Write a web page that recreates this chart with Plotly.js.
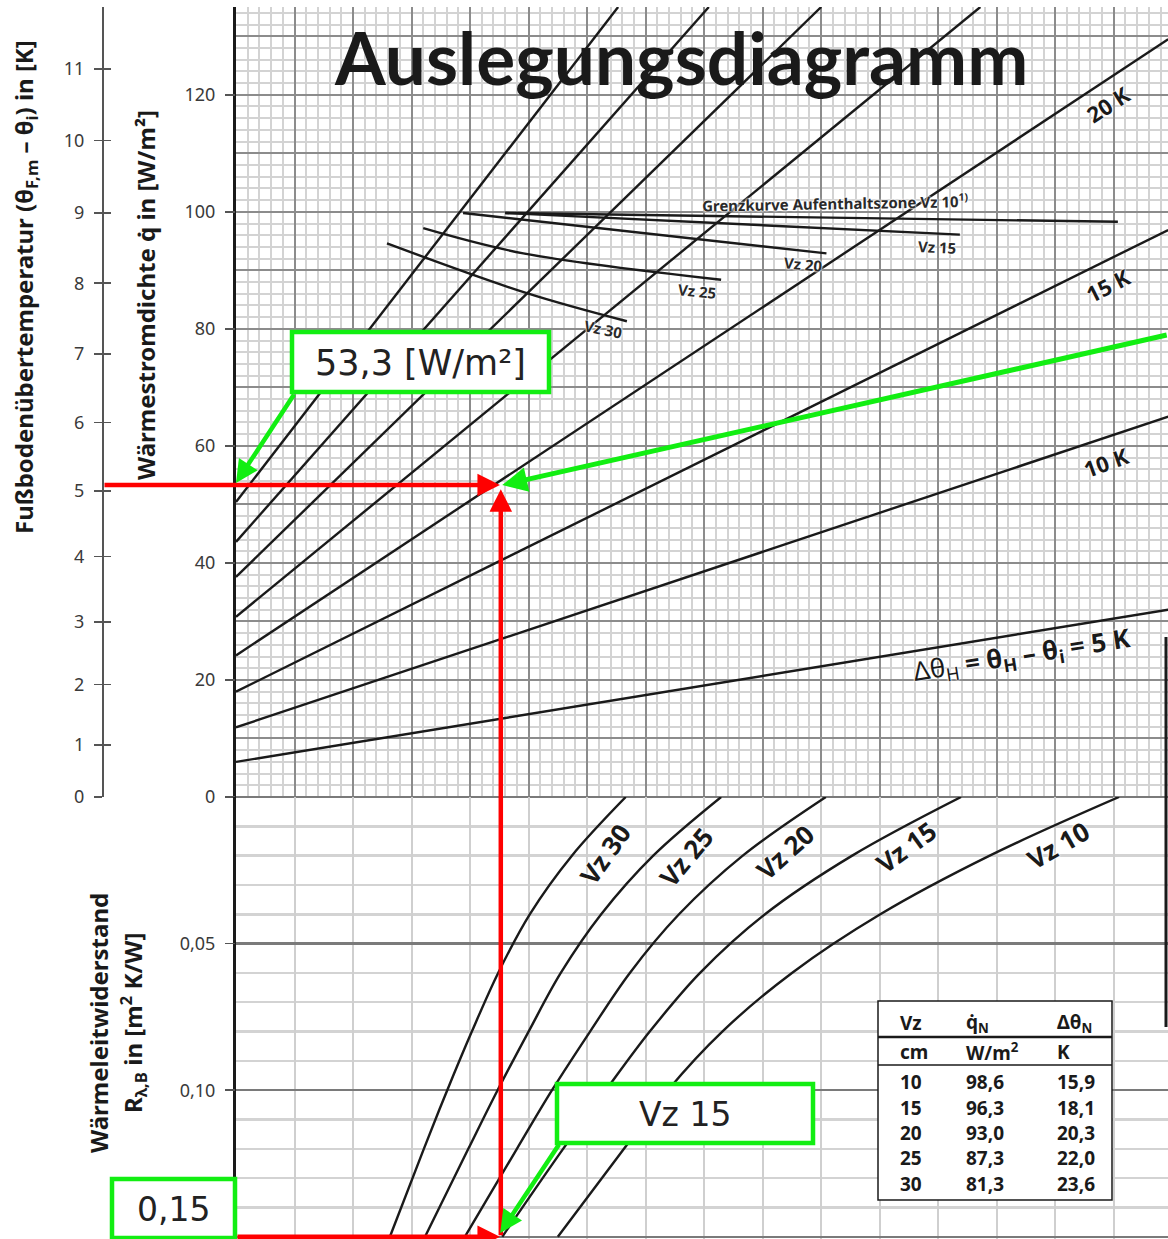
<!DOCTYPE html>
<html><head><meta charset="utf-8">
<script src="https://cdn.plot.ly/plotly-3.0.1.min.js"></script>
<style>html,body{margin:0;padding:0;background:#fff;overflow:hidden}#chart{width:1168px;height:1239px}</style>
</head><body><div id="chart"></div>
<script>
// ================= DATA =================
// Upper part: heat flux lines for Δθ_H (q in W/m² at the left edge and at an end point)
const deltaThetaH = [5, 10, 15, 20, 25, 30, 35, 40];
const lineXStart  = [0, 0, 0, 0, 0, 0, 0, 0];
const lineQStart  = [6.0, 11.9, 18.0, 24.2, 30.8, 37.6, 43.6, 50.4];
const lineXEnd    = [159.3, 159.3, 159.3, 159.3, 127.2, 100.0, 80.8, 65.3];
const lineQEnd    = [32.0, 65.0, 96.9, 129.5, 135.0, 135.0, 135.0, 135.0];

// Grenzkurven Aufenthaltszone (upper part)
const grenzNames = ['Vz 10', 'Vz 15', 'Vz 20', 'Vz 25', 'Vz 30'];
const grenzVz10X = [46.0, 150.7];        const grenzVz10Q = [99.8, 98.3];
const grenzVz15X = [46.0, 123.7];        const grenzVz15Q = [99.8, 96.1];
const grenzVz20X = [38.8, 100.9];        const grenzVz20Q = [99.8, 92.9];
const grenzVz25X = [32.0, 49.1, 82.9];   const grenzVz25Q = [97.2, 92.9, 88.4];
const grenzVz30X = [25.8, 49.7, 66.8];   const grenzVz30Q = [94.6, 86.1, 81.3];

// Lower part: R_λ,B vs. x for each spacing Vz
const rValues = [0, 0.02, 0.04, 0.06, 0.08, 0.10, 0.12, 0.15];
const vz30X = [66.6, 57.4, 50.2, 44.8, 40.3, 36.1, 32.1, 26.3];
const vz25X = [82.9, 71.3, 62.4, 55.5, 50.0, 44.7, 39.7, 32.3];
const vz20X = [100.8, 86.6, 75.7, 67.3, 60.5, 54.0, 48.0, 39.1];
const vz15X = [123.9, 105.3, 90.4, 79.3, 70.7, 63.2, 55.9, 45.5];
const vz10X = [150.9, 128.8, 110.1, 95.0, 83.1, 73.8, 66.3, 55.0];

// Axis ticks
const qTickVals  = [0, 20, 40, 60, 80, 100, 120];
const rTickVals  = [0.05, 0.10];
const rTickText  = ['0,05', '0,10'];
const kTickLabels = ['0','1','2','3','4','5','6','7','8','9','10','11'];
const kTickPosQ   = [0, 8.9, 19.2, 29.9, 41.1, 52.3, 64.0, 75.7, 87.8, 99.8, 112.2, 124.4];

// Worked example
const exampleQ = 53.3;      // W/m²
const exampleR = 0.15;      // m²K/W
const exampleX = 45.1;      // intersection on the 20 K line / Vz 15 curve
const greenLineStartX = 159.3, greenLineStartQ = 79.0;

// Table
const tableHeader1 = ['Vz', 'q̇<sub>N</sub>', 'Δθ<sub>N</sub>'];
const tableHeader2 = ['cm', 'W/m<sup>2</sup>', 'K'];
const tableVz = ['10', '15', '20', '25', '30'];
const tableQN = ['98,6', '96,3', '93,0', '87,3', '81,3'];
const tableDT = ['15,9', '18,1', '20,3', '22,0', '23,6'];

// ================= LAYOUT GEOMETRY =================
const W = 1168, H = 1239;
const PL = 236, PR = 1168, TOPPX = 7, ZEROPX = 797, BOTPX = 1239;
const QMAX = 135;
const PXQ = (ZEROPX - TOPPX) / QMAX;          // px per W/m² (and per x unit)
const XMAX = (PR - PL) / PXQ;
const PXR = 2932;                               // px per m²K/W
const RMAX = (BOTPX - ZEROPX) / PXR;
const px = v => v / W, py = v => 1 - v / H;
const qPx = q => ZEROPX - q * PXQ, rPx = r => ZEROPX + r * PXR;
const pxToX = p => (p - PL) / PXQ, pxToQ = p => (ZEROPX - p) / PXQ, pxToR = p => (p - ZEROPX) / PXR;

const BLACK = '#1a1a1a', RED = '#ff0000', GREEN = '#12ee12';
const SANS = 'Noto Sans, Open Sans, DejaVu Sans, sans-serif';
const HALO = '0px 0px 2px #fff, 0px 0px 2px #fff, 0px 0px 3px #fff';

const traces = [];
deltaThetaH.forEach((d, i) => {
  traces.push({x: [lineXStart[i], lineXEnd[i]], y: [lineQStart[i], lineQEnd[i]], xaxis: 'x', yaxis: 'y',
    mode: 'lines', line: {color: BLACK, width: 2.4}, hoverinfo: 'skip', showlegend: false, name: d + ' K'});
});
[[grenzVz10X, grenzVz10Q], [grenzVz15X, grenzVz15Q], [grenzVz20X, grenzVz20Q], [grenzVz25X, grenzVz25Q], [grenzVz30X, grenzVz30Q]]
  .forEach((g, i) => traces.push({x: g[0], y: g[1], xaxis: 'x', yaxis: 'y', mode: 'lines',
    line: {color: BLACK, width: 2.4, shape: 'spline', smoothing: 1}, hoverinfo: 'skip', showlegend: false, name: grenzNames[i]}));
[vz30X, vz25X, vz20X, vz15X, vz10X].forEach(arr => traces.push({x: arr, y: rValues, xaxis: 'x2', yaxis: 'y2',
  mode: 'lines', line: {color: BLACK, width: 2.4, shape: 'spline', smoothing: 1}, hoverinfo: 'skip', showlegend: false}));
// helper traces to register overlay axes
[['x','y3',qTickVals],['x2','y4',rTickVals],['x','y5',kTickPosQ],['x','y6',kTickPosQ]].forEach(t =>
  traces.push({x: t[2].map(() => lineXStart[0]), y: t[2], xaxis: t[0], yaxis: t[1], mode: 'markers',
    marker: {opacity: 0, size: 1}, hoverinfo: 'skip', showlegend: false}));

const upperDom = [py(ZEROPX), py(TOPPX)];
const lowerDom = [0, py(ZEROPX)];
const tickFont = {family: SANS, size: 18, color: '#3a3a3a'};

const layout = {
  width: W, height: H, margin: {l: 0, r: 0, t: 0, b: 0}, paper_bgcolor: '#fff', plot_bgcolor: '#fff',
  showlegend: false,
  xaxis: {domain: [px(PL), 1], range: [0, XMAX], anchor: 'y', dtick: 10, tick0: 0, showgrid: true,
    gridcolor: '#8c8c8c', gridwidth: 2, minor: {dtick: 2, showgrid: true, gridcolor: '#d3d3d3', gridwidth: 2},
    showticklabels: false, ticks: '', zeroline: false, showline: false, fixedrange: true},
  yaxis: {domain: upperDom, range: [0, QMAX], anchor: 'x', dtick: 10, tick0: 0, showgrid: true,
    gridcolor: '#8c8c8c', gridwidth: 2, minor: {dtick: 2, showgrid: true, gridcolor: '#d3d3d3', gridwidth: 2},
    showticklabels: false, ticks: '', zeroline: true, zerolinecolor: '#7a7a7a', zerolinewidth: 2.5,
    showline: true, linecolor: BLACK, linewidth: 3, fixedrange: true},
  xaxis2: {domain: [px(PL), 1], range: [0, XMAX], anchor: 'y2', dtick: 10, tick0: 0, showgrid: true,
    gridcolor: '#cfcfcf', gridwidth: 2, showticklabels: false, ticks: '', zeroline: false, showline: false, fixedrange: true},
  yaxis2: {domain: lowerDom, range: [RMAX, 0], anchor: 'x2', dtick: 0.05, tick0: 0, showgrid: true,
    gridcolor: '#7a7a7a', gridwidth: 2.5, minor: {dtick: 0.01, showgrid: true, gridcolor: '#d3d3d3', gridwidth: 2.5},
    showticklabels: false, ticks: '', zeroline: false, showline: true, linecolor: BLACK, linewidth: 3, fixedrange: true},
  yaxis3: {overlaying: 'y', anchor: 'x', side: 'left', range: [0, QMAX], tickmode: 'array', tickvals: qTickVals,
    ticks: 'outside', ticklen: 10, tickwidth: 1.5, tickcolor: '#555', showgrid: false, zeroline: false,
    showline: false, tickfont: tickFont, ticklabelstandoff: 6, fixedrange: true},
  yaxis4: {overlaying: 'y2', anchor: 'x2', side: 'left', range: [RMAX, 0], tickmode: 'array', tickvals: rTickVals,
    ticktext: rTickText, ticks: 'outside', ticklen: 10, tickwidth: 1.5, tickcolor: '#555', showgrid: false,
    zeroline: false, showline: false, tickfont: tickFont, ticklabelstandoff: 6, fixedrange: true},
  yaxis5: {overlaying: 'y', anchor: 'free', position: px(102), side: 'left', range: [0, QMAX], tickmode: 'array',
    tickvals: kTickPosQ, ticktext: kTickLabels, ticks: 'outside', ticklen: 8, tickwidth: 1.5, tickcolor: '#555',
    showgrid: false, zeroline: false, showline: true, linecolor: '#555', linewidth: 1.5, tickfont: tickFont,
    ticklabelstandoff: 6, fixedrange: true},
  yaxis6: {overlaying: 'y', anchor: 'free', position: px(102), side: 'left', range: [0, QMAX], tickmode: 'array',
    tickvals: kTickPosQ, ticks: 'inside', ticklen: 8, tickwidth: 1.5, tickcolor: '#555', showticklabels: false,
    showgrid: false, zeroline: false, showline: false, fixedrange: true},
  shapes: [], annotations: []
};

const S = layout.shapes, A = layout.annotations;
function txt(t, x, y, o) { A.push(Object.assign({text: t, x: px(x), y: py(y), xref: 'paper', yref: 'paper',
  showarrow: false, xanchor: 'center', yanchor: 'middle'}, o)); }

// Title and axis titles
txt('<b>Auslegungsdiagramm</b>', 681, 57, {font: {family: 'Lato, ' + SANS, size: 73, color: BLACK}});
const axTitleFont = {family: SANS, size: 24, color: BLACK};
txt('<b>Fußbodenübertemperatur (θ<sub>F,m</sub> – θ<sub>i</sub>) in [K]</b>', 25, 287, {textangle: -90, font: axTitleFont});
txt('<b>Wärmestromdichte q̇ in [W/m²]</b>', 145, 295, {textangle: -90, font: axTitleFont});
txt('<b>Wärmeleitwiderstand</b>', 98, 1023, {textangle: -90, font: axTitleFont});
txt('<b>R<sub>λ,B</sub> in [m<sup>2</sup> K/W]</b>', 133, 1023, {textangle: -90, font: axTitleFont});

// Line labels (upper)
const lblFont = s => ({family: SANS, size: s, color: BLACK, shadow: HALO});
txt('<b>20 K</b>', 1108, 104, {textangle: -33, font: lblFont(22)});
txt('<b>15 K</b>', 1108, 285, {textangle: -27, font: lblFont(22)});
txt('<b>10 K</b>', 1106, 462, {textangle: -20, font: lblFont(22)});
txt('Δθ<sub>H</sub> <b>= θ<sub>H</sub> – θ<sub>i</sub> = 5 K</b>', 1022, 655, {textangle: -9, font: lblFont(26)});
const gFont = {family: SANS, size: 15, color: '#2a2a2a', shadow: HALO};
txt('<b>Grenzkurve Aufenthaltszone Vz 10<sup>1)</sup></b>', 835, 203, {textangle: -1, font: gFont});
txt('<b>Vz 15</b>', 937, 247, {textangle: 3, font: gFont});
txt('<b>Vz 20</b>', 803, 264, {textangle: 5, font: gFont});
txt('<b>Vz 25</b>', 697, 291, {textangle: 6, font: gFont});
txt('<b>Vz 30</b>', 603, 329, {textangle: 12, font: gFont});

// Lower Vz labels
txt('<b>Vz 30</b>', 605, 854, {textangle: -55, font: lblFont(26)});
txt('<b>Vz 25</b>', 686, 857, {textangle: -50, font: lblFont(26)});
txt('<b>Vz 20</b>', 785, 852, {textangle: -42, font: lblFont(26)});
txt('<b>Vz 15</b>', 906, 847, {textangle: -36, font: lblFont(26)});
txt('<b>Vz 10</b>', 1058, 845, {textangle: -30, font: lblFont(26)});

// Right-side frame fragment
S.push({type: 'line', xref: 'paper', yref: 'paper', x0: px(1166), x1: px(1166), y0: py(637), y1: py(1027), line: {color: BLACK, width: 3}, layer: 'above'});

// Table
const TL = 878, TR = 1112, TT = 1001, TB = 1200;
S.push({type: 'rect', xref: 'paper', yref: 'paper', x0: px(TL), x1: px(TR), y0: py(TT), y1: py(TB), fillcolor: '#fff', line: {color: BLACK, width: 1.5}, layer: 'above'});
S.push({type: 'line', xref: 'paper', yref: 'paper', x0: px(TL), x1: px(TR), y0: py(1037), y1: py(1037), line: {color: BLACK, width: 2.5}, layer: 'above'});
S.push({type: 'line', xref: 'paper', yref: 'paper', x0: px(TL), x1: px(TR), y0: py(1065), y1: py(1065), line: {color: BLACK, width: 1.5}, layer: 'above'});
const colX = [898, 964, 1055];
const tFont = {family: SANS, size: 19, color: BLACK};
[tableHeader1, tableHeader2].forEach((row, r) => row.forEach((t, c) =>
  txt('<b>' + t + '</b>', colX[c], [1023, 1052][r], {xanchor: 'left', font: tFont})));
const rowY = [1082, 1108, 1133, 1158, 1184];
tableVz.forEach((v, i) => {
  txt('<b>' + v + '</b>', colX[0], rowY[i], {xanchor: 'left', font: tFont});
  txt('<b>' + tableQN[i] + '</b>', colX[1], rowY[i], {xanchor: 'left', font: tFont});
  txt('<b>' + tableDT[i] + '</b>', colX[2], rowY[i], {xanchor: 'left', font: tFont});
});

// Green boxes
[[292, 332, 549, 392, exampleQ.toFixed(1).replace('.', ',') + ' [W/m²]', 35],
 [557, 1084, 813, 1143, 'Vz 15', 33],
 [112, 1179, 235, 1238, exampleR.toFixed(2).replace('.', ','), 33]].forEach(b => {
  S.push({type: 'rect', xref: 'paper', yref: 'paper', x0: px(b[0]), x1: px(b[2]), y0: py(b[1]), y1: py(b[3]),
    fillcolor: '#fff', line: {color: GREEN, width: 4.5}, layer: 'above'});
  txt(b[4], (b[0] + b[2]) / 2, (b[1] + b[3]) / 2 + 1, {font: {family: 'DejaVu Sans, ' + SANS, size: b[5], color: '#222'}});
});

// Red construction lines (arrows)
const arrowBase = {text: '', showarrow: true, arrowhead: 2, arrowsize: 1, standoff: 0, startstandoff: 0};
A.push(Object.assign({}, arrowBase, {x: exampleX, y: exampleQ, xref: 'x', yref: 'y', ax: pxToX(103), ay: exampleQ,
  axref: 'x', ayref: 'y', arrowcolor: RED, arrowwidth: 4.5}));
A.push(Object.assign({}, arrowBase, {x: exampleX, y: exampleR, xref: 'x2', yref: 'y2', ax: 0, ay: exampleR,
  axref: 'x2', ayref: 'y2', arrowcolor: RED, arrowwidth: 4.5}));
A.push(Object.assign({}, arrowBase, {x: exampleX + 0.15, y: exampleQ - 0.7, xref: 'x', yref: 'y', ax: 0,
  ay: rPx(exampleR) - qPx(exampleQ - 0.7), arrowcolor: RED, arrowwidth: 4.5}));
// Green arrows
A.push(Object.assign({}, arrowBase, {x: exampleX + 0.4, y: exampleQ, xref: 'x', yref: 'y', ax: greenLineStartX,
  ay: greenLineStartQ, axref: 'x', ayref: 'y', arrowcolor: GREEN, arrowwidth: 5}));
A.push(Object.assign({}, arrowBase, {x: 0, y: pxToQ(483), xref: 'x', yref: 'y', ax: pxToX(295), ay: pxToQ(393),
  axref: 'x', ayref: 'y', arrowcolor: GREEN, arrowwidth: 4.5}));
A.push(Object.assign({}, arrowBase, {x: exampleX + 0.05, y: pxToR(1233), xref: 'x2', yref: 'y2', ax: pxToX(560), ay: pxToR(1143),
  axref: 'x2', ayref: 'y2', arrowcolor: GREEN, arrowwidth: 4.5}));

Plotly.newPlot('chart', traces, layout, {displayModeBar: false, staticPlot: true});
</script></body></html>
